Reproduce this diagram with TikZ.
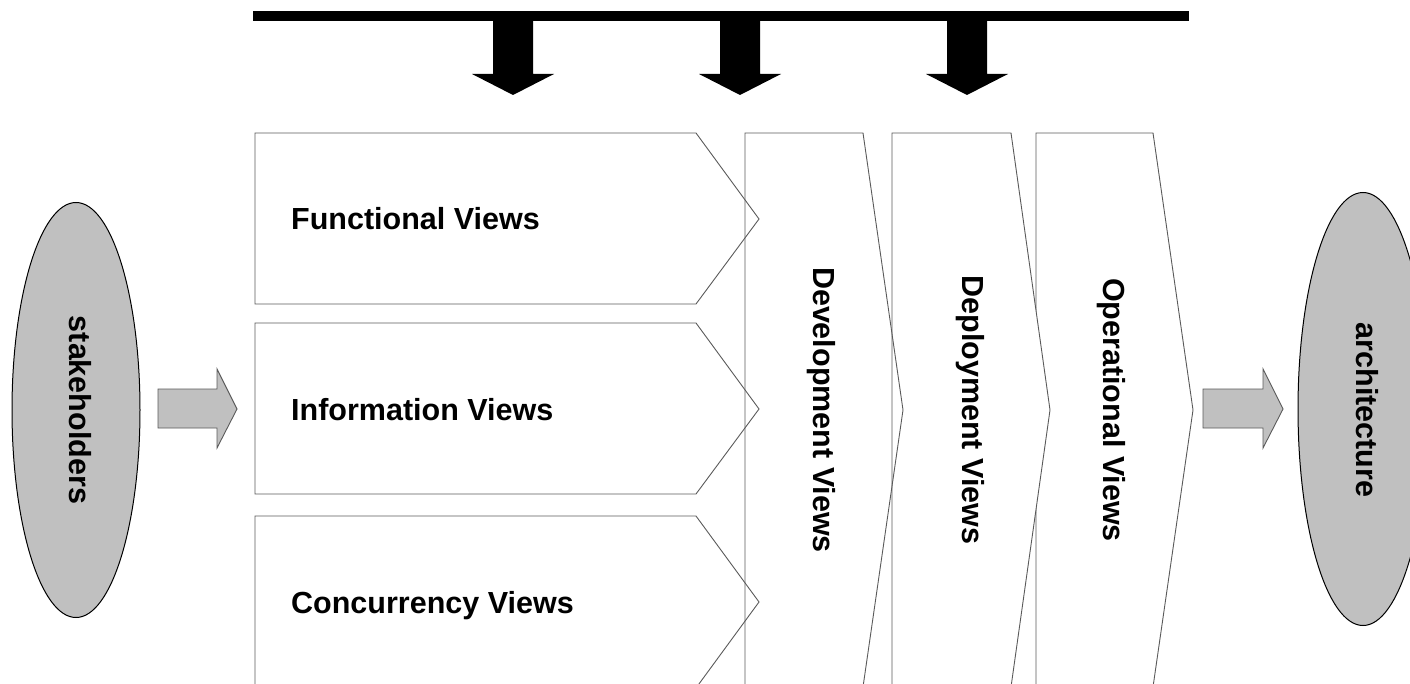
\documentclass[tikz,border=0pt]{standalone}
\usepackage{fontspec}
\setmainfont{Liberation Sans}
\usetikzlibrary{shapes.geometric}
\definecolor{blobgray}{RGB}{192,192,192}
\definecolor{edgegray}{RGB}{90,90,90}
\begin{document}
\begin{tikzpicture}[x=1pt,y=-1pt,
  viewbox/.style={draw=edgegray, line width=0.9pt},
  lbl/.style={font=\bfseries\fontsize{30.5}{36}\selectfont, inner sep=0pt, text=black},
  blockarrow/.style={fill=blobgray, draw=edgegray, line width=0.9pt},
  inarrow/.style={fill=black},
  blob/.style={ellipse, fill=blobgray, draw=black, line width=1pt, inner sep=0pt}]
\useasboundingbox (0,0) rectangle (1410,684);
\clip (0,0) rectangle (1410,684);

% top bar and down arrows
\fill[inarrow] (253,11) rectangle (1189,21);
\fill[inarrow] (493,20) -- (533,20) -- (533,74) -- (554,74) -- (513,95) -- (472,74) -- (493,74) -- cycle;
\fill[inarrow] (720,20) -- (760,20) -- (760,74) -- (781,74) -- (740,95) -- (699,74) -- (720,74) -- cycle;
\fill[inarrow] (947,20) -- (987,20) -- (987,74) -- (1008,74) -- (967,95) -- (926,74) -- (947,74) -- cycle;

% vertical chevrons
\draw[viewbox, fill=white] (1036,133) -- (1153,133) -- (1193,410) -- (1153,687) -- (1036,687) -- cycle;
\draw[viewbox, fill=white] (892,133) -- (1011,133) -- (1050,410) -- (1011,687) -- (892,687) -- cycle;
\draw[viewbox] (745,133) -- (863,133) -- (903,410) -- (863,687) -- (745,687) -- cycle;

% horizontal chevrons
\draw[viewbox] (255,133) -- (696,133) -- (759,219) -- (696,304) -- (255,304) -- cycle;
\draw[viewbox] (255,323) -- (696,323) -- (759,409) -- (696,494) -- (255,494) -- cycle;
\draw[viewbox] (255,516) -- (696,516) -- (759,602) -- (696,688) -- (255,688) -- cycle;

% labels
\node[lbl, anchor=base west] (func) at (291,230) {Functional Views};
\node[lbl, anchor=base west] (info) at (291,420) {Information Views};
\node[lbl, anchor=base west] (conc) at (291,613) {Concurrency Views};
\node[lbl, rotate=-90, anchor=base] (dev) at (813,410) {Development Views};
\node[lbl, rotate=-90, anchor=base] (depl) at (962,410) {Deployment Views};
\node[lbl, rotate=-90, anchor=base] (oper) at (1103,410) {Operational Views};

% ellipses
\node[blob, rotate=-90, minimum width=415pt, minimum height=128pt] (stake) at (76,410) {};
\node[lbl, rotate=-90, anchor=base] (staketxt) at (69,410) {stakeholders};
\node[blob, rotate=-90, minimum width=433pt, minimum height=130pt] (arch) at (1363,409) {};
\node[lbl, rotate=-90, anchor=base] (archtxt) at (1356,410) {architecture};

% gray block arrows
\draw[blockarrow] (158,389) -- (217,389) -- (217,369) -- (237,409) -- (217,448) -- (217,428) -- (158,428) -- cycle;
\draw[blockarrow] (1203,389) -- (1263,389) -- (1263,369) -- (1283,409) -- (1263,448) -- (1263,428) -- (1203,428) -- cycle;
\end{tikzpicture}
\end{document}
